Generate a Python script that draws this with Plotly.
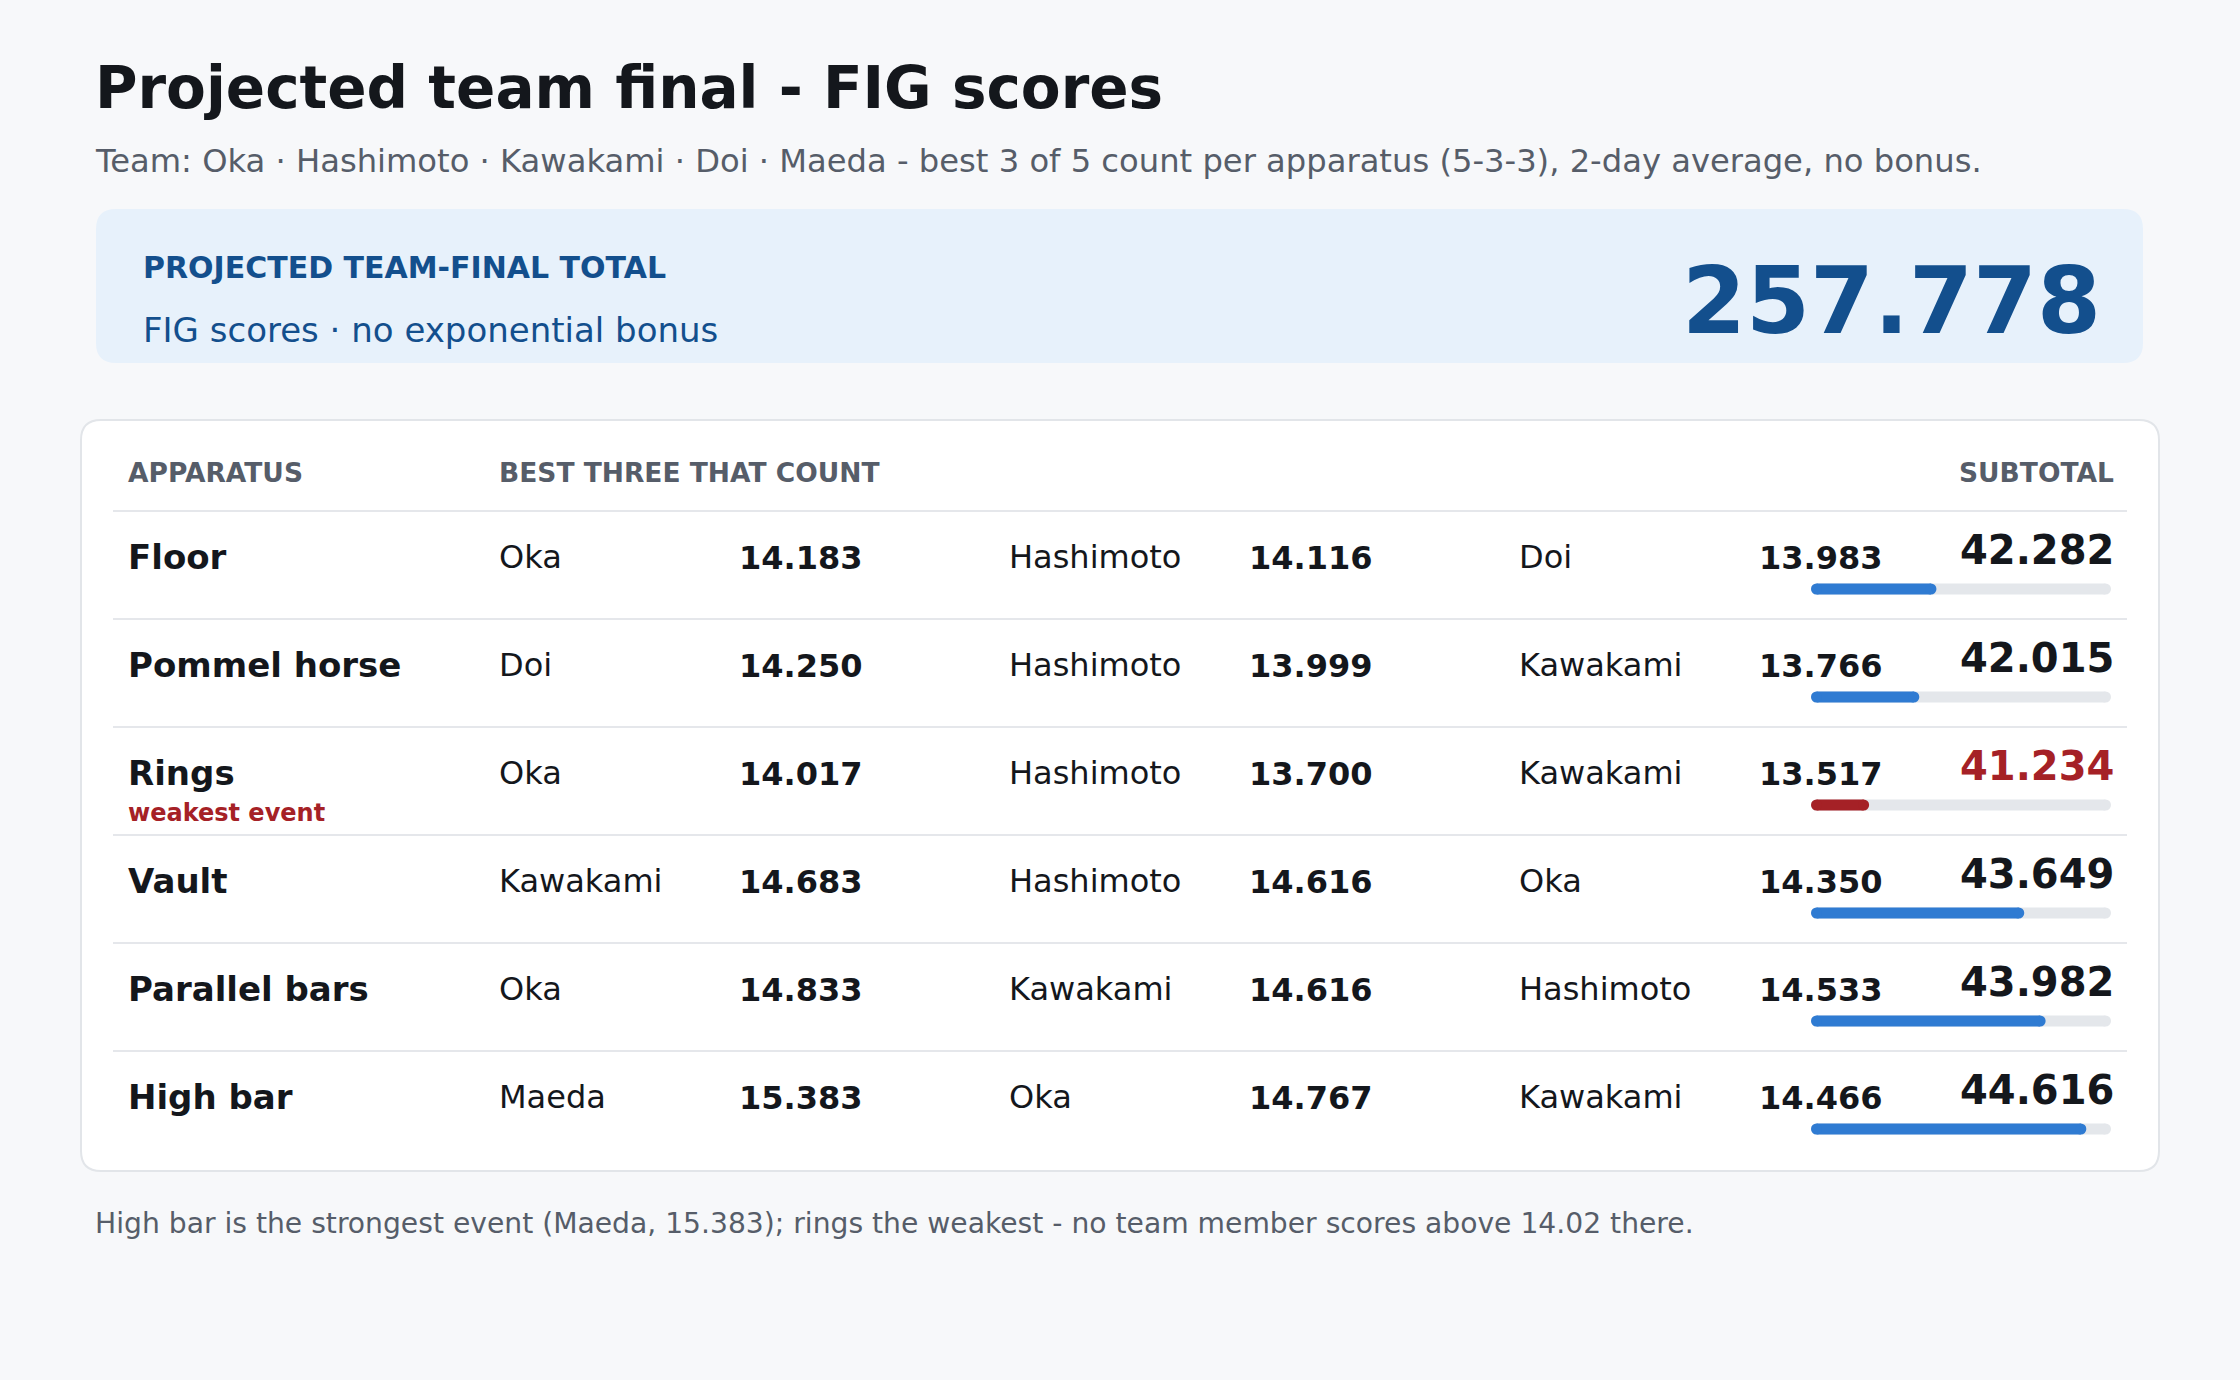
import plotly.graph_objects as go

W, H = 2240, 1380
FONT = "DejaVu Sans"

# data
apparatus = ["Floor", "Pommel horse", "Rings", "Vault", "Parallel bars", "High bar"]
first_names = ["Oka", "Doi", "Oka", "Kawakami", "Oka", "Maeda"]
first_scores = [14.183, 14.250, 14.017, 14.683, 14.833, 15.383]
second_names = ["Hashimoto", "Hashimoto", "Hashimoto", "Hashimoto", "Kawakami", "Oka"]
second_scores = [14.116, 13.999, 13.700, 14.616, 14.616, 14.767]
third_names = ["Doi", "Kawakami", "Kawakami", "Oka", "Hashimoto", "Kawakami"]
third_scores = [13.983, 13.766, 13.517, 14.350, 14.533, 14.466]
subtotals = [42.282, 42.015, 41.234, 43.649, 43.982, 44.616]
team_total = 257.778
bar_range = [40.5, 45.0]

title = "Projected team final - FIG scores"
subtitle = ("Team: Oka · Hashimoto · Kawakami · Doi · Maeda - best 3 of 5 count per "
            "apparatus (5-3-3), 2-day average, no bonus.")
kpi_label = "PROJECTED TEAM-FINAL TOTAL"
kpi_note = "FIG scores · no exponential bonus"
headers = ["APPARATUS", "BEST THREE THAT COUNT", "SUBTOTAL"]
footnote = ("High bar is the strongest event (Maeda, 15.383); rings the weakest - "
            "no team member scores above 14.02 there.")

# colours
BG = "#f7f8fa"
INK = "#14171c"
MUTED = "#565d69"
NAVY = "#134f8d"
BLUE = "#2f7bd2"
RED = "#a52126"
TRACK = "#e4e7eb"
RULE = "#e5e7eb"

weakest = subtotals.index(min(subtotals))


def px(x):
    return x / W


def py(y):
    return 1 - y / H


def rounded_rect(x0, y0, x1, y1, r):
    # path in paper units, pixel inputs
    return (f"M {px(x0 + r)},{py(y0)} L {px(x1 - r)},{py(y0)} Q {px(x1)},{py(y0)} {px(x1)},{py(y0 + r)} "
            f"L {px(x1)},{py(y1 - r)} Q {px(x1)},{py(y1)} {px(x1 - r)},{py(y1)} "
            f"L {px(x0 + r)},{py(y1)} Q {px(x0)},{py(y1)} {px(x0)},{py(y1 - r)} "
            f"L {px(x0)},{py(y0 + r)} Q {px(x0)},{py(y0)} {px(x0 + r)},{py(y0)} Z")


fig = go.Figure()

# progress bars as thick lines with round end markers (pill shape)
BAR_PX = 11
lo, hi = bar_range
for i, v in enumerate(subtotals):
    for xs, col in [([lo, hi], TRACK), ([lo, v], RED if i == weakest else BLUE)]:
        fig.add_trace(go.Scatter(x=xs, y=[i, i], mode="lines+markers", cliponaxis=False,
                                 line=dict(color=col, width=BAR_PX),
                                 marker=dict(color=col, size=BAR_PX, line_width=0)))

shapes = [
    dict(type="path", path=rounded_rect(96, 209, 2143, 363, 20), xref="paper", yref="paper",
         fillcolor="#e7f1fb", line_width=0, layer="below"),
    dict(type="path", path=rounded_rect(81, 420, 2159, 1171, 20), xref="paper", yref="paper",
         fillcolor="white", line=dict(color="#e2e5e9", width=2), layer="below"),
]
ROW0, PITCH = 557, 108
for k in range(len(apparatus)):
    yl = 511 + PITCH * k
    shapes.append(dict(type="line", xref="paper", yref="paper", x0=px(113), x1=px(2127),
                       y0=py(yl), y1=py(yl), line=dict(color=RULE, width=2), layer="below"))

ann = []


def text(x, y, s, size, color=INK, bold=False, anchor="left"):
    # small nudge for annotation padding
    x = x - 3 if anchor == "left" else x + 3
    ann.append(dict(x=px(x), y=py(y), xref="paper", yref="paper", text=s, showarrow=False,
                    xanchor=anchor, yanchor="middle", align=anchor,
                    font=dict(family=FONT, size=size, color=color,
                              weight="bold" if bold else "normal")))


text(96, 88, title, 58, INK, True)
text(96, 161, subtitle, 32.2, MUTED)
text(144, 267, kpi_label, 30, NAVY, True)
text(144, 330, kpi_note, 34, NAVY)
text(2100, 301, f"{team_total:.3f}", 92, NAVY, True, "right")

text(129, 472, headers[0], 26.5, MUTED, True)
text(500, 472, headers[1], 26.5, MUTED, True)
text(2113, 472, headers[2], 26.5, MUTED, True, "right")

cols = [(500, 740, first_names, first_scores),
        (1010, 1250, second_names, second_scores),
        (1520, 1760, third_names, third_scores)]
for i, name in enumerate(apparatus):
    yc = ROW0 + PITCH * i
    text(129, yc, name, 34, INK, True)
    for xn, xs, names, scores in cols:
        text(xn, yc, names[i], 32, INK)
        text(xs, yc + 1, f"{scores[i]:.3f}", 32, INK, True)
    text(2113, yc - 7, f"{subtotals[i]:.3f}", 40, RED if i == weakest else INK, True, "right")
    if i == weakest:
        text(129, yc + 40, "weakest event", 24, RED, True)

text(96, 1223, footnote, 28.2, MUTED)

fig.update_layout(
    width=W, height=H, autosize=False,
    margin=dict(l=0, r=0, t=0, b=0),
    paper_bgcolor=BG, plot_bgcolor="rgba(0,0,0,0)",
    showlegend=False, hovermode=False,
    shapes=shapes, annotations=ann,
    xaxis=dict(domain=[px(1811 + BAR_PX / 2), px(2111 - BAR_PX / 2)], range=bar_range,
               visible=False, fixedrange=True),
    yaxis=dict(domain=[py(1183), py(535)], range=[5.5, -0.5], visible=False, fixedrange=True),
)

fig.write_html("out.html", config={"displayModeBar": False},
               post_script="document.body.style.margin='0';document.body.style.background='#f7f8fa';")
